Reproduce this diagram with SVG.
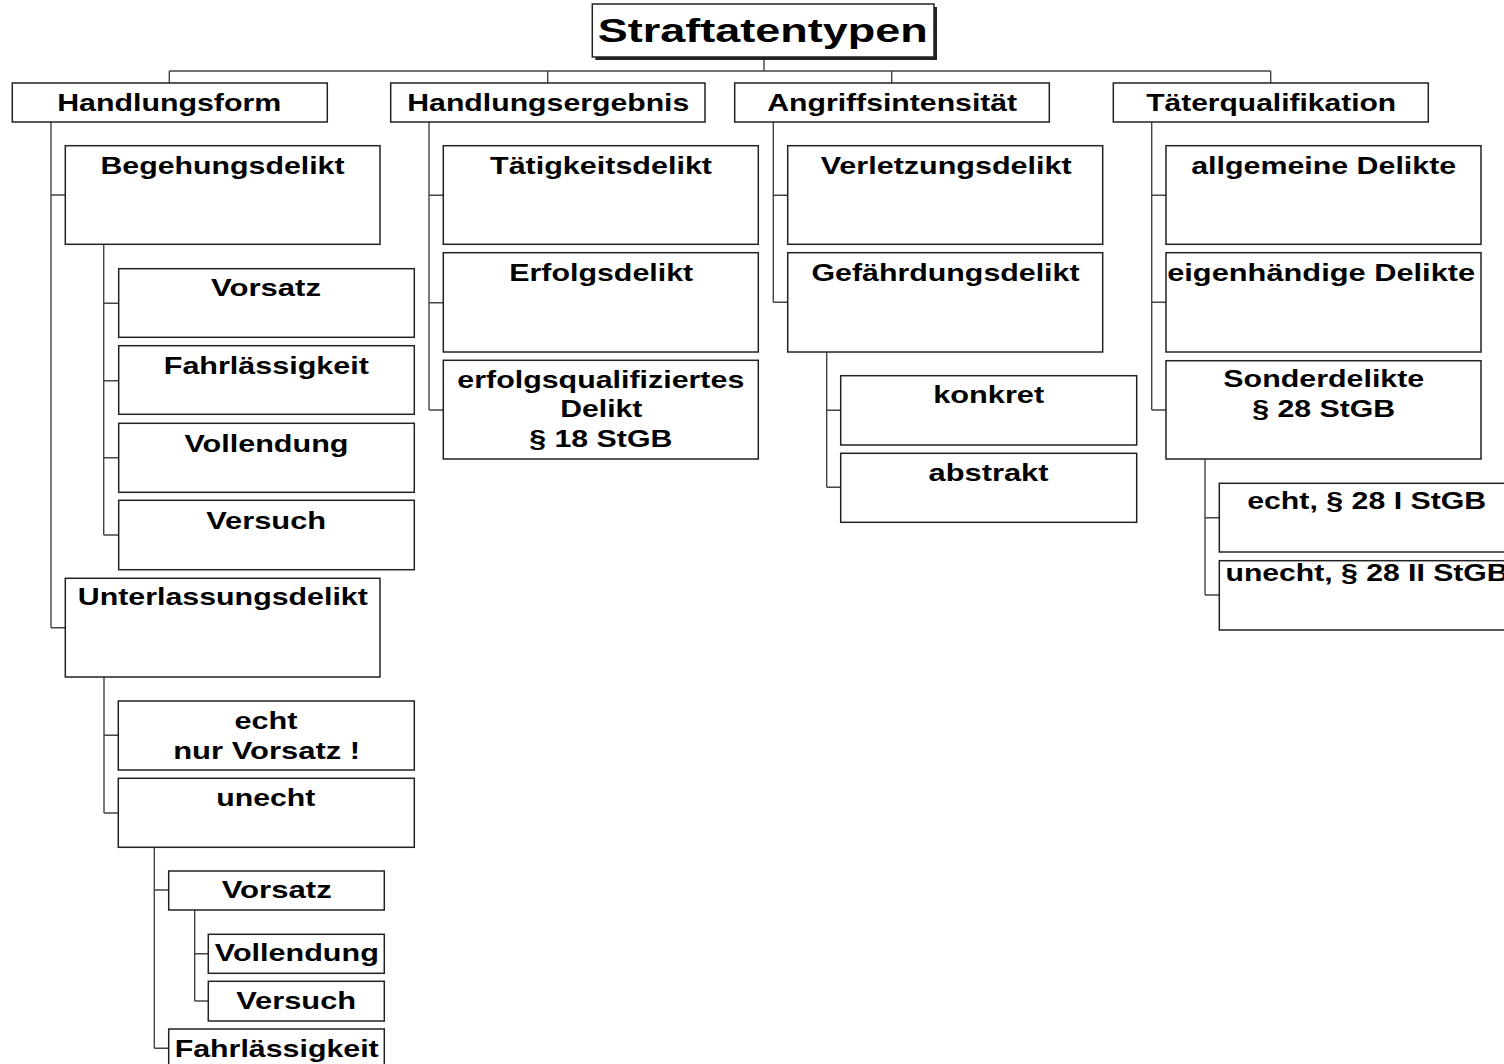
<svg xmlns="http://www.w3.org/2000/svg" width="1504" height="1064" viewBox="0 0 1504 1064">
<style>
.box{fill:#fff;stroke:#222;stroke-width:1.5}
.shadow{fill:#222;stroke:none}
.con{fill:none;stroke:#444;stroke-width:1.4}
text{font-family:"Liberation Sans",Arial,Helvetica,sans-serif;font-weight:bold;fill:#000;text-anchor:middle}
.t{font-size:24px}
.s{font-size:23px}
.h{font-size:33px}
</style>
<rect width="1504" height="1064" fill="#fff"/>
<g id="connectors">
<path class="con" d="M764 57V71M169.3 71H1270.7M169.3 71V83M547.7 71V83M891.7 71V83M1270.7 71V83"/>
<path class="con" d="M51 122V627.7M51 195H65.3M51 627.7H65.3"/>
<path class="con" d="M103.7 244.3V535M103.7 303.3H118.7M103.7 380.7H118.7M103.7 457.7H118.7M103.7 535H118.7"/>
<path class="con" d="M104 677V813M104 735.3H118.3M104 813H118.3"/>
<path class="con" d="M154.3 847.3V1048.3M154.3 890H168.7M154.3 1048.3H168.7"/>
<path class="con" d="M194.7 910V1001M194.7 953.7H208.3M194.7 1001H208.3"/>
<path class="con" d="M429 122V410M429 195.3H443.3M429 302.7H443.3M429 410H443.3"/>
<path class="con" d="M773.3 122V302.3M773.3 195.3H787.7M773.3 302.3H787.7"/>
<path class="con" d="M826.7 352V487.3M826.7 410.3H840.7M826.7 487.3H840.7"/>
<path class="con" d="M1151.7 122V410M1151.7 195.3H1166M1151.7 302.3H1166M1151.7 410H1166"/>
<path class="con" d="M1205 459V595M1205 517.7H1219.3M1205 595H1219.3"/>
</g>
<g id="title">
<rect class="shadow" x="595.3" y="7" width="341.7" height="53"/>
<rect class="box" x="592.3" y="4" width="341.7" height="53"/>
<text class="h" x="762.8" y="42.3" textLength="330" lengthAdjust="spacingAndGlyphs">Straftatentypen</text>
</g>
<g id="handlungsform">
<rect class="box" x="12.3" y="83" width="315" height="39"/>
<text class="t" x="169.2" y="110.7" textLength="224" lengthAdjust="spacingAndGlyphs">Handlungsform</text>
</g>
<g id="handlungsergebnis">
<rect class="box" x="390.7" y="83" width="314.3" height="39"/>
<text class="t" x="548.3" y="110.7" textLength="282" lengthAdjust="spacingAndGlyphs">Handlungsergebnis</text>
</g>
<g id="angriffsintensitaet">
<rect class="box" x="734.7" y="83" width="314.6" height="39"/>
<text class="t" x="892.2" y="110.7" textLength="250" lengthAdjust="spacingAndGlyphs">Angriffsintensität</text>
</g>
<g id="taeterqualifikation">
<rect class="box" x="1113.3" y="83" width="315" height="39"/>
<text class="t" x="1271.2" y="110.7" textLength="250" lengthAdjust="spacingAndGlyphs">Täterqualifikation</text>
</g>
<g id="begehungsdelikt">
<rect class="box" x="65.3" y="145.7" width="314.7" height="98.6"/>
<text class="t" x="222.5" y="174.3" textLength="244" lengthAdjust="spacingAndGlyphs">Begehungsdelikt</text>
</g>
<g id="beg-vorsatz">
<rect class="box" x="118.7" y="268.7" width="295.6" height="68.6"/>
<text class="t" x="266" y="296" textLength="110" lengthAdjust="spacingAndGlyphs">Vorsatz</text>
</g>
<g id="beg-fahrlaessigkeit">
<rect class="box" x="118.7" y="345.7" width="295.6" height="68.6"/>
<text class="t" x="266.3" y="374.3" textLength="205" lengthAdjust="spacingAndGlyphs">Fahrlässigkeit</text>
</g>
<g id="beg-vollendung">
<rect class="box" x="118.7" y="423.3" width="295.6" height="69"/>
<text class="t" x="266.5" y="451.7" textLength="164" lengthAdjust="spacingAndGlyphs">Vollendung</text>
</g>
<g id="beg-versuch">
<rect class="box" x="118.7" y="500.3" width="295.6" height="69.4"/>
<text class="t" x="266.2" y="529" textLength="120" lengthAdjust="spacingAndGlyphs">Versuch</text>
</g>
<g id="unterlassungsdelikt">
<rect class="box" x="65.3" y="578.3" width="314.7" height="98.7"/>
<text class="t" x="222.8" y="605" textLength="290" lengthAdjust="spacingAndGlyphs">Unterlassungsdelikt</text>
</g>
<g id="unt-echt">
<rect class="box" x="118.3" y="701" width="296" height="69"/>
<text class="t" x="266" y="729" textLength="63" lengthAdjust="spacingAndGlyphs">echt</text>
<text class="t" x="266.7" y="759" textLength="187" lengthAdjust="spacingAndGlyphs">nur Vorsatz !</text>
</g>
<g id="unt-unecht">
<rect class="box" x="118.3" y="778.3" width="296" height="69"/>
<text class="t" x="265.8" y="806" textLength="99" lengthAdjust="spacingAndGlyphs">unecht</text>
</g>
<g id="une-vorsatz">
<rect class="box" x="168.7" y="871" width="215.6" height="39"/>
<text class="t" x="276.7" y="898.3" textLength="110" lengthAdjust="spacingAndGlyphs">Vorsatz</text>
</g>
<g id="une-vollendung">
<rect class="box" x="208.3" y="934.3" width="176" height="39"/>
<text class="t" x="296.8" y="961" textLength="164" lengthAdjust="spacingAndGlyphs">Vollendung</text>
</g>
<g id="une-versuch">
<rect class="box" x="208.3" y="981.3" width="176" height="39.7"/>
<text class="t" x="296.2" y="1009" textLength="120" lengthAdjust="spacingAndGlyphs">Versuch</text>
</g>
<g id="une-fahrlaessigkeit">
<rect class="box" x="168.7" y="1029" width="215.6" height="42"/>
<text class="t" x="276.7" y="1056.7" textLength="204" lengthAdjust="spacingAndGlyphs">Fahrlässigkeit</text>
</g>
<g id="taetigkeitsdelikt">
<rect class="box" x="443.3" y="145.7" width="315" height="98.6"/>
<text class="t" x="601" y="174.3" textLength="222" lengthAdjust="spacingAndGlyphs">Tätigkeitsdelikt</text>
</g>
<g id="erfolgsdelikt">
<rect class="box" x="443.3" y="252.7" width="315" height="99.3"/>
<text class="t" x="601.2" y="281" textLength="184" lengthAdjust="spacingAndGlyphs">Erfolgsdelikt</text>
</g>
<g id="erfolgsqualifiziert">
<rect class="box" x="443.3" y="360.3" width="315" height="98.7"/>
<text class="t" x="600.8" y="387.7" textLength="287" lengthAdjust="spacingAndGlyphs">erfolgsqualifiziertes</text>
<text class="t" x="601.3" y="417.3" textLength="82" lengthAdjust="spacingAndGlyphs">Delikt</text>
<text class="t" x="600.8" y="447.3" textLength="143" lengthAdjust="spacingAndGlyphs">§ 18 StGB</text>
</g>
<g id="verletzungsdelikt">
<rect class="box" x="787.7" y="145.7" width="315" height="98.6"/>
<text class="t" x="946.2" y="174.3" textLength="251" lengthAdjust="spacingAndGlyphs">Verletzungsdelikt</text>
</g>
<g id="gefaehrdungsdelikt">
<rect class="box" x="787.7" y="252.7" width="315" height="99.3"/>
<text class="t" x="945.5" y="281" textLength="268" lengthAdjust="spacingAndGlyphs">Gefährdungsdelikt</text>
</g>
<g id="konkret">
<rect class="box" x="840.7" y="375.7" width="296" height="69.3"/>
<text class="t" x="988.7" y="403.3" textLength="111" lengthAdjust="spacingAndGlyphs">konkret</text>
</g>
<g id="abstrakt">
<rect class="box" x="840.7" y="453.3" width="296" height="69"/>
<text class="t" x="988.5" y="480.7" textLength="120" lengthAdjust="spacingAndGlyphs">abstrakt</text>
</g>
<g id="allgemeine-delikte">
<rect class="box" x="1166" y="145.7" width="315" height="98.6"/>
<text class="s" x="1323.7" y="174.3" textLength="265" lengthAdjust="spacingAndGlyphs">allgemeine Delikte</text>
</g>
<g id="eigenhaendige-delikte">
<rect class="box" x="1166" y="252.7" width="315" height="99.3"/>
<text class="s" x="1321.2" y="281" textLength="308" lengthAdjust="spacingAndGlyphs">eigenhändige Delikte</text>
</g>
<g id="sonderdelikte">
<rect class="box" x="1166" y="360.7" width="315" height="98.3"/>
<text class="s" x="1323.8" y="386.7" textLength="201" lengthAdjust="spacingAndGlyphs">Sonderdelikte</text>
<text class="s" x="1323.7" y="416.7" textLength="143" lengthAdjust="spacingAndGlyphs">§ 28 StGB</text>
</g>
<g id="sonder-echt">
<rect class="box" x="1219.3" y="483.3" width="296" height="68.7"/>
<text class="s" x="1366.7" y="509.3" textLength="239" lengthAdjust="spacingAndGlyphs">echt, § 28 I StGB</text>
</g>
<g id="sonder-unecht">
<rect class="box" x="1219.3" y="560.7" width="296" height="69.3"/>
<text class="s" x="1367" y="580.7" textLength="283" lengthAdjust="spacingAndGlyphs">unecht, § 28 II StGB</text>
</g>
</svg>
